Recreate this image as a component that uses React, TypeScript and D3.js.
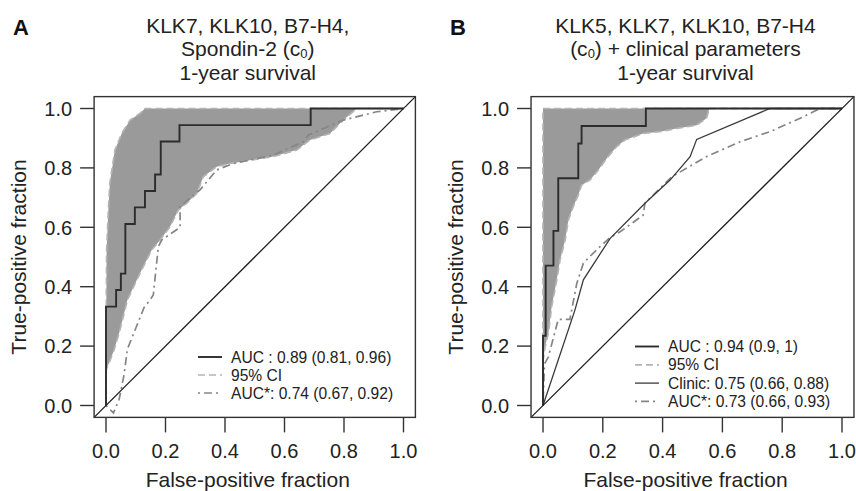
import React from "react";
import * as d3 from "d3";

// ---------- shared ----------
const xTicks = [0, 0.2, 0.4, 0.6, 0.8, 1.0];
const yTicks = [0, 0.2, 0.4, 0.6, 0.8, 1.0];
const xLabel = "False-positive fraction";
const yLabel = "True-positive fraction";

// ---------- panel A ----------
const aTitle = ["KLK7, KLK10, B7-H4,", "Spondin-2 (c_0)", "1-year survival"];
const aLegend = ["AUC : 0.89 (0.81, 0.96)", "95% CI", "AUC*: 0.74 (0.67, 0.92)"];
const aStepFpr = [0, 0, 0.034, 0.05, 0.065, 0.097, 0.131, 0.165, 0.184, 0.247, 0.688, 1.0];
const aStepTpr = [0, 0.333, 0.389, 0.444, 0.611, 0.667, 0.722, 0.778, 0.889, 0.944, 1.0, 1.0];
const aUpperFpr = [0, 0, 0.002, 0.008, 0.013, 0.03, 0.053, 0.081, 0.114, 0.131, 1];
const aUpperTpr = [0, 0.13, 0.52, 0.66, 0.75, 0.86, 0.916, 0.961, 0.983, 1, 1];
const aLowerFpr = [0, 0, 0.01, 0.027, 0.044, 0.072, 0.114, 0.154, 0.182, 0.215, 0.243, 0.271, 0.305, 0.327, 0.372, 0.417, 0.562, 0.641, 0.686, 0.753, 0.798, 0.843, 1];
const aLowerTpr = [0, 0.12, 0.142, 0.187, 0.243, 0.355, 0.445, 0.524, 0.557, 0.602, 0.658, 0.681, 0.714, 0.77, 0.804, 0.815, 0.838, 0.86, 0.894, 0.916, 0.961, 1, 1];
const aStarFpr = [0, 0.025, 0.044, 0.06, 0.072, 0.128, 0.148, 0.159, 0.176, 0.187, 0.249, 0.249, 0.316, 0.372, 0.428, 0.562, 0.663, 0.68, 0.798, 0.91, 1];
const aStarTpr = [0, -0.025, 0.02, 0.1, 0.19, 0.33, 0.355, 0.372, 0.535, 0.557, 0.6, 0.67, 0.726, 0.793, 0.815, 0.843, 0.888, 0.911, 0.961, 0.989, 1];

// ---------- panel B ----------
const bTitle = ["KLK5, KLK7, KLK10, B7-H4", "(c_0) + clinical parameters", "1-year survival"];
const bLegend = ["AUC : 0.94 (0.9, 1)", "95% CI", "Clinic: 0.75 (0.66, 0.88)", "AUC*: 0.73 (0.66, 0.93)"];
const bStepFpr = [0, 0, 0.009, 0.035, 0.051, 0.118, 0.129, 0.344, 1.0];
const bStepTpr = [0, 0.235, 0.471, 0.588, 0.765, 0.882, 0.941, 1.0, 1.0];
const bUpperFpr = [0, 0, 1];
const bUpperTpr = [0, 1, 1];
const bLowerFpr = [0, 0, 0.007, 0.018, 0.029, 0.046, 0.057, 0.074, 0.085, 0.101, 0.118, 0.129, 0.157, 0.185, 0.213, 0.246, 0.274, 0.335, 0.391, 0.447, 0.514, 0.547, 0.556, 1];
const bLowerTpr = [0, 0.15, 0.198, 0.243, 0.333, 0.423, 0.49, 0.557, 0.625, 0.669, 0.709, 0.742, 0.759, 0.793, 0.832, 0.871, 0.894, 0.916, 0.922, 0.933, 0.944, 0.967, 1, 1];
const bClinicFpr = [0, 0.107, 0.135, 0.224, 0.341, 0.425, 0.492, 0.514, 0.759, 1];
const bClinicTpr = [0, 0.322, 0.423, 0.562, 0.681, 0.759, 0.838, 0.896, 1, 1];
const bStarFpr = [0, 0.005, 0.018, 0.051, 0.09, 0.113, 0.135, 0.151, 0.196, 0.224, 0.258, 0.335, 0.341, 0.425, 0.441, 0.547, 0.659, 0.759, 0.86, 0.926, 1];
const bStarTpr = [0, 0.14, 0.164, 0.29, 0.29, 0.411, 0.479, 0.496, 0.54, 0.565, 0.585, 0.641, 0.681, 0.765, 0.776, 0.838, 0.888, 0.922, 0.967, 1, 1];

const FONT = "'Liberation Sans', Arial, Helvetica, sans-serif";
const STYLE = {
  fill: "#9a9a9a",
  ci: { stroke: "#b4b4b4", width: 1.7, dash: "7,4" },
  star: { stroke: "#858585", width: 1.7, dash: "2,4,8,4" },
  step: { stroke: "#2c2c2c", width: 1.9 },
  clinic: { stroke: "#3a3a3a", width: 1.3 },
};

const zip = (a: number[], b: number[]): [number, number][] => a.map((v, i) => [v, b[i]]);

function TitleLine({ text, x, y }: { text: string; x: number; y: number }) {
  const parts = text.split("_0");
  return (
    <text x={x} y={y} textAnchor="middle" fontSize={21} fill="#222">
      {parts.length === 1 ? (
        text
      ) : (
        <>
          <tspan>{parts[0]}</tspan>
          <tspan dy={2} fontSize={13}>0</tspan>
          <tspan dy={-2}>{parts[1]}</tspan>
        </>
      )}
    </text>
  );
}

type PanelProps = {
  letter: string;
  letterX: number;
  x0: number;
  x1: number;
  title: string[];
  legend: string[];
  legendX: number;
  legendY: number;
  legendDy: number;
  step: [number, number][];
  upper: [number, number][];
  lower: [number, number][];
  star: [number, number][];
  clinic?: [number, number][];
};

const titleY = [33.3, 55.5, 79.8];

function Panel(p: PanelProps) {
  const xs = d3.scaleLinear().domain([0, 1]).range([p.x0, p.x1]);
  const ys = d3.scaleLinear().domain([0, 1]).range([405.5, 108.5]);
  const line = d3
    .line<[number, number]>()
    .x((d) => xs(d[0]))
    .y((d) => ys(d[1]));
  const stepLine = d3
    .line<[number, number]>()
    .x((d) => xs(d[0]))
    .y((d) => ys(d[1]))
    .curve(d3.curveStepAfter);
  const bx0 = xs(-0.04), bx1 = xs(1.04), by0 = ys(-0.04), by1 = ys(1.04);
  const cx = (bx0 + bx1) / 2 - 7;
  const cy = (by0 + by1) / 2;
  const band = [...p.upper, ...p.lower.slice().reverse()];

  const legendStyles: { stroke: string; width: number; dash?: string }[] = p.clinic
    ? [STYLE.step, STYLE.ci, STYLE.clinic, STYLE.star]
    : [STYLE.step, STYLE.ci, STYLE.star];

  return (
    <g fontFamily={FONT}>
      <text x={p.letterX} y={35} fontSize={22} fontWeight="bold" fill="#111">{p.letter}</text>
      {p.title.map((t, i) => (
        <TitleLine key={i} text={t} x={cx} y={titleY[i]} />
      ))}
      <path d={line(band) + "Z"} fill={STYLE.fill} stroke="none" />
      <path d={line(p.upper)!} fill="none" stroke={STYLE.ci.stroke} strokeWidth={STYLE.ci.width} strokeDasharray={STYLE.ci.dash} />
      <path d={line(p.lower)!} fill="none" stroke={STYLE.ci.stroke} strokeWidth={STYLE.ci.width} strokeDasharray={STYLE.ci.dash} />
      <path d={line(p.star)!} fill="none" stroke={STYLE.star.stroke} strokeWidth={STYLE.star.width} strokeDasharray={STYLE.star.dash} />
      {p.clinic && (
        <path d={line(p.clinic)!} fill="none" stroke={STYLE.clinic.stroke} strokeWidth={STYLE.clinic.width} />
      )}
      <path d={stepLine(p.step)!} fill="none" stroke={STYLE.step.stroke} strokeWidth={STYLE.step.width} />
      <path d={line([[-0.04, -0.04], [1.04, 1.04]])!} fill="none" stroke="#1e1e1e" strokeWidth={1.3} />
      <rect x={bx0} y={by1} width={bx1 - bx0} height={by0 - by1} fill="none" stroke="#333" strokeWidth={1.4} />
      {/* x axis */}
      {xTicks.map((t) => (
        <g key={"x" + t}>
          <line x1={xs(t)} x2={xs(t)} y1={by0} y2={by0 + 15} stroke="#333" strokeWidth={1.4} />
          <text x={xs(t)} y={458} textAnchor="middle" fontSize={20} fill="#222">{t.toFixed(1)}</text>
        </g>
      ))}
      <text x={cx} y={486.5} textAnchor="middle" fontSize={21} fill="#222">{xLabel}</text>
      {/* y axis */}
      {yTicks.map((t) => (
        <g key={"y" + t}>
          <line x1={bx0 - 14} x2={bx0} y1={ys(t)} y2={ys(t)} stroke="#333" strokeWidth={1.4} />
          <text x={bx0 - 22} y={ys(t)} dy="0.36em" textAnchor="end" fontSize={20} fill="#222">{t.toFixed(1)}</text>
        </g>
      ))}
      <text transform={`translate(${bx0 - 68},${cy}) rotate(-90)`} textAnchor="middle" fontSize={21} fill="#222">{yLabel}</text>
      {/* legend */}
      {p.legend.map((t, i) => {
        const st = legendStyles[i];
        const y = p.legendY + i * p.legendDy;
        return (
          <g key={"l" + i}>
            <line x1={p.legendX} x2={p.legendX + 24} y1={y - 5.5} y2={y - 5.5} stroke={st.stroke} strokeWidth={st.width} strokeDasharray={st.dash} />
            <text x={p.legendX + 33} y={y} fontSize={15.6} fill="#222">{t}</text>
          </g>
        );
      })}
    </g>
  );
}

export default function App() {
  return (
    <svg width={856} height={491} style={{ position: "absolute", left: 0, top: 0, background: "#fff" }}>
      <rect x={0} y={0} width={856} height={491} fill="#fff" />
      <Panel
        letter="A"
        letterX={13}
        x0={106}
        x1={403.5}
        title={aTitle}
        legend={aLegend}
        legendX={198}
        legendY={362.5}
        legendDy={18}
        step={zip(aStepFpr, aStepTpr)}
        upper={zip(aUpperFpr, aUpperTpr)}
        lower={zip(aLowerFpr, aLowerTpr)}
        star={zip(aStarFpr, aStarTpr)}
      />
      <Panel
        letter="B"
        letterX={450}
        x0={543}
        x1={842}
        title={bTitle}
        legend={bLegend}
        legendX={635}
        legendY={352}
        legendDy={18.3}
        step={zip(bStepFpr, bStepTpr)}
        upper={zip(bUpperFpr, bUpperTpr)}
        lower={zip(bLowerFpr, bLowerTpr)}
        star={zip(bStarFpr, bStarTpr)}
        clinic={zip(bClinicFpr, bClinicTpr)}
      />
    </svg>
  );
}
